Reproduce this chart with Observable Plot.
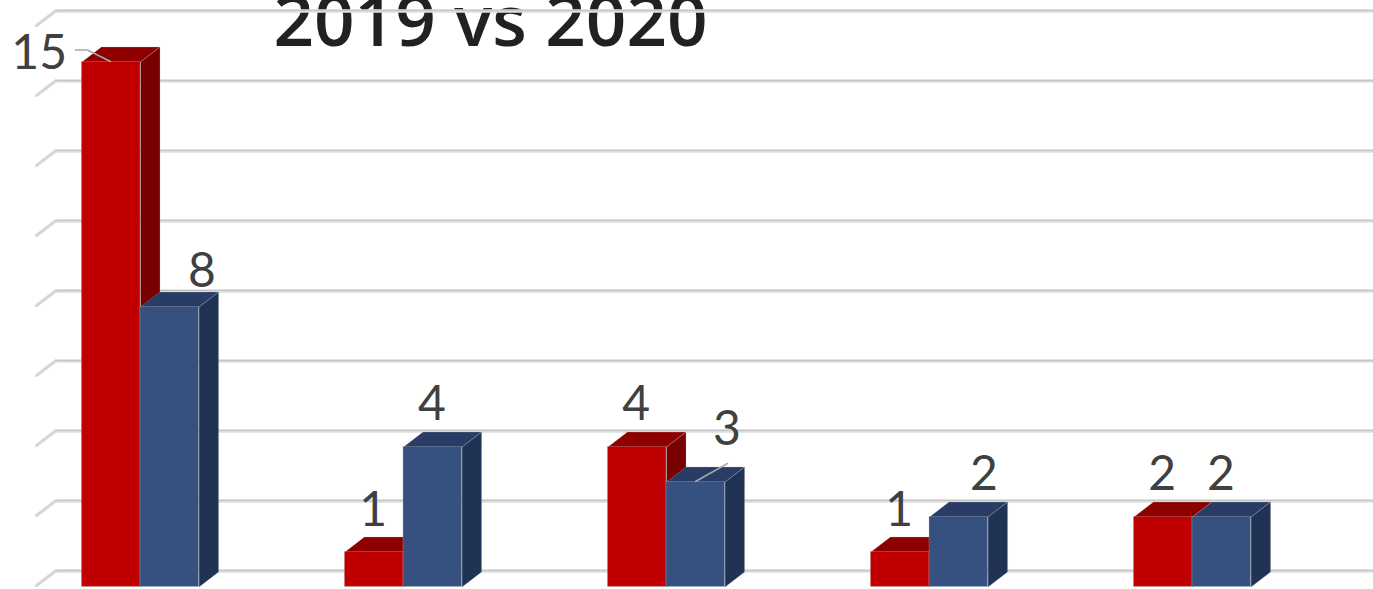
<!DOCTYPE html>
<html>
<head>
<meta charset="utf-8">
<script src="https://cdn.jsdelivr.net/npm/d3@7"></script>
<script src="https://cdn.jsdelivr.net/npm/@observablehq/plot@0.6"></script>
<style>html,body{margin:0;padding:0;background:#fff;overflow:hidden}svg{display:block}</style>
</head>
<body>
<div id="chart"></div>
<script>
const groups = [0, 1, 2, 3, 4];
const values2019 = [15, 1, 4, 1, 2];
const values2020 = [8, 4, 3, 2, 2];
const gridValues = [0, 2, 4, 6, 8, 10, 12, 14, 16];
const titleText = "2019 vs 2020";

const W = 1373, H = 589;
const unitX = 263, unitY = 35;
const px = n => n / unitX, py = n => n / unitY;
const barW = px(58.6), depthX = px(19.5), depthY = py(15);
const xDomain = [px(-140), px(W - 140)];
const yDomain = [py(586.5 - H), py(586.5)];

const series = [
  {values: values2019, start: -barW, front: "#c00000", top: "#8e0000", side: "#780000"},
  {values: values2020, start: 0, front: "#365080", top: "#283c66", side: "#203354"}
];
const bars = series.flatMap(s => groups.map(g => ({
  x1: g + s.start, x2: g + s.start + barW, v: s.values[g], ...s
})));

const poly = [];
bars.forEach((b, i) => {
  const top = [[b.x1, b.v], [b.x1 + depthX, b.v + depthY], [b.x2 + depthX, b.v + depthY], [b.x2, b.v]];
  const side = [[b.x2, b.v], [b.x2 + depthX, b.v + depthY], [b.x2 + depthX, depthY], [b.x2, 0]];
  top.forEach(([x, y]) => poly.push({id: `t${i}`, x, y, fill: b.top, order: i}));
  side.forEach(([x, y]) => poly.push({id: `s${i}`, x, y, fill: b.side, order: i}));
});

// label offsets from the top-centre of each bar, in pixels
const labelOffsets = [
  [-72, -8], [-1, -41], [-1, -42], [-1, -41], [-1, -42],
  [32, -35], [-1, -42], [31, -52], [25, -42], [-1, -42]
];
const labels = bars.map((b, i) => ({
  x: (b.x1 + b.x2) / 2 + px(labelOffsets[i][0]),
  y: b.v + py(-labelOffsets[i][1]),
  text: String(b.v)
}));

const leaders = [
  {id: "a", x: px(75 - 140), y: py(586.5 - 49.5)},
  {id: "a", x: px(87 - 140), y: py(586.5 - 49.5)},
  {id: "a", x: px(110 - 140), y: py(586.5 - 61)},
  {id: "b", x: 2 + px(695 - 666), y: py(586.5 - 481)},
  {id: "b", x: 2 + px(727 - 666), y: py(586.5 - 463)}
];

const gridDepth = py(16);
const backX = xDomain[0] + px(55), frontX = xDomain[0] + px(36);
const gridMarks = [
  Plot.ruleY(gridValues, {y: d => d + gridDepth, x1: backX, x2: xDomain[1], stroke: "#dedede", strokeWidth: 3.6}),
  Plot.ruleY(gridValues, {y: d => d + gridDepth + py(0.6), x1: backX, x2: xDomain[1], stroke: "#c2c2c2", strokeWidth: 1}),
  Plot.link(gridValues, {x1: backX, x2: frontX, y1: d => d + gridDepth, y2: d => d + gridDepth - py(14.5), stroke: "#d6d6d6", strokeWidth: 3, strokeLinecap: "round"})
];

const plot = Plot.plot({
  width: W, height: H,
  margin: 0,
  x: {domain: xDomain, range: [0, W], axis: null},
  y: {domain: yDomain, range: [H, 0], axis: null},
  marks: [
    Plot.text([titleText], {
      x: px(490 - 140), y: py(586.5 - 46), text: d => d,
      fontFamily: "Open Sans", fontWeight: 600, fontSize: 71, fill: "#212121",
      textAnchor: "middle", lineAnchor: "bottom", dy: -1
    }),
    ...gridMarks,
    // draw red bars then blue bars so blue overlaps red depth faces
    ...bars.flatMap((b, i) => [
      Plot.line(poly.filter(p => p.order === i), {
        x: "x", y: "y", z: "id", fill: "fill", stroke: "#b9b9b9", strokeOpacity: 0.35, strokeWidth: 0.8, curve: "linear-closed"
      }),
      Plot.rectY([b], {x1: "x1", x2: "x2", y1: 0, y2: "v", fill: "front", stroke: "#bdbdbd", strokeOpacity: 0.35, strokeWidth: 0.8})
    ]),
    Plot.line(leaders, {x: "x", y: "y", z: "id", stroke: "#a8a8a8", strokeWidth: 1.5}),
    Plot.text(labels, {
      x: "x", y: "y", text: "text",
      fontFamily: "Lato", fontSize: 48, fill: "#404040",
      textAnchor: "middle", lineAnchor: "middle"
    })
  ]
});
document.getElementById("chart").appendChild(plot);
</script>
</body>
</html>
